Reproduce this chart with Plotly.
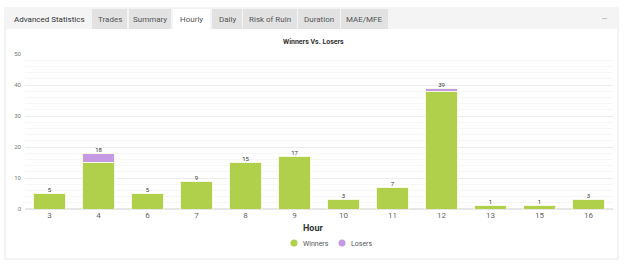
import plotly.graph_objects as go

hours = ["3", "4", "6", "7", "8", "9", "10", "11", "12", "13", "15", "16"]
winners = [5, 15, 5, 9, 15, 17, 3, 7, 38, 1, 1, 3]
losers = [0, 3, 0, 0, 0, 0, 0, 0, 1, 0, 0, 0]
totals = [w + l for w, l in zip(winners, losers)]

tabs = ["Trades", "Summary", "Hourly", "Daily", "Risk of Ruin", "Duration", "MAE/MFE"]
series_names = ["Winners", "Losers"]

GREEN = "#b0cf4b"
PURPLE = "#c49be2"

W, H = 625, 265
L, R, T, B = 25, 613, 54, 209  # plot area in px


def px(x):
    return (x - L) / (R - L)


def py(y):
    return (B - y) / (B - T)


fig = go.Figure()
fig.add_trace(go.Bar(x=hours, y=winners, name=series_names[0], marker=dict(color=GREEN, line=dict(color="#f4f8e4", width=1)), showlegend=False))
fig.add_trace(go.Bar(x=hours, y=losers, name=series_names[1], marker=dict(color=PURPLE, line=dict(color="#f4f8e4", width=1)), showlegend=False))
# total labels
fig.add_trace(go.Scatter(x=hours, y=totals, mode="text", text=[str(t) for t in totals], textposition="top center",
                         textfont=dict(size=6, color="#333", family="Roboto"), showlegend=False, hoverinfo="skip"))

shapes = []
# card border
shapes.append(dict(type="rect", xref="paper", yref="paper", x0=px(5), x1=px(618), y0=py(259), y1=py(8),
                   line=dict(color="#e8e8e8", width=1), fillcolor="rgba(0,0,0,0)", layer="below"))
# header bar
shapes.append(dict(type="rect", xref="paper", yref="paper", x0=px(5.5), x1=px(617.5), y0=py(29), y1=py(8.5),
                   line=dict(width=0), fillcolor="#f4f4f4", layer="below"))
tab_pos = [(92, 127), (129, 171), (173, 210), (212, 242), (243, 297), (298, 340), (341, 388)]
annotations = []
for name, (a, b) in zip(tabs, tab_pos):
    fill = "#ffffff" if name == "Hourly" else "#e2e2e2"
    shapes.append(dict(type="rect", xref="paper", yref="paper", x0=px(a), x1=px(b), y0=py(29), y1=py(9),
                       line=dict(width=0), fillcolor=fill, layer="below"))
    annotations.append(dict(xref="paper", yref="paper", x=px((a + b) / 2), y=py(19.5), text=name, showarrow=False,
                            xanchor="center", yanchor="middle", font=dict(size=8, color="#555", family="Roboto")))
annotations.append(dict(xref="paper", yref="paper", x=px(12), y=py(19.5), text="Advanced Statistics", showarrow=False,
                        xanchor="left", yanchor="middle", font=dict(size=8, color="#333", family="Roboto")))
annotations.append(dict(xref="paper", yref="paper", x=px(604), y=py(19), text="•••", showarrow=False,
                        xanchor="center", yanchor="middle", font=dict(size=5, color="#999", family="Roboto")))
annotations.append(dict(xref="paper", yref="paper", x=px(313), y=py(42), text="<b>Winners Vs. Losers</b>", showarrow=False,
                        xanchor="center", yanchor="middle", font=dict(size=7, color="#333", family="Roboto")))
annotations.append(dict(xref="paper", yref="paper", x=px(313), y=py(228), text="<b>Hour</b>", showarrow=False,
                        xanchor="center", yanchor="middle", font=dict(size=9, color="#333", family="Roboto")))
# manual legend with circle markers
for name, col, cx in zip(series_names, [GREEN, PURPLE], [294, 342]):
    shapes.append(dict(type="circle", xref="paper", yref="paper", x0=px(cx - 3.5), x1=px(cx + 3.5),
                       y0=py(243 + 3.5), y1=py(243 - 3.5), line=dict(width=0), fillcolor=col))
    annotations.append(dict(xref="paper", yref="paper", x=px(cx + 7), y=py(243.5), text=name, showarrow=False,
                            xanchor="left", yanchor="middle", font=dict(size=7, color="#555", family="Roboto")))
for a in annotations:
    fig.add_annotation(**a)

fig.update_layout(
    width=W, height=H,
    margin=dict(l=L, r=W - R, t=T, b=H - B, autoexpand=False),
    barmode="stack", bargap=0.35,
    plot_bgcolor="white", paper_bgcolor="white",
    shapes=shapes, showlegend=False,
    font=dict(family="Roboto", color="#666"),
    xaxis=dict(type="category", categoryorder="array", categoryarray=hours, range=[-0.5, len(hours) - 0.5],
               showgrid=False, showline=False, zeroline=False,
               tickfont=dict(size=8, color="#666"), ticks=""),
    yaxis=dict(range=[0, 50], dtick=10, showgrid=True, gridcolor="#ececec", gridwidth=1,
               zeroline=True, zerolinecolor="#e6e6e6", showline=False,
               tickfont=dict(size=6, color="#777"), ticks="", ticklabelstandoff=3,
               minor=dict(dtick=2, showgrid=True, gridcolor="#f6f6f6", gridwidth=1)),
)

fig.write_html("out.html")
